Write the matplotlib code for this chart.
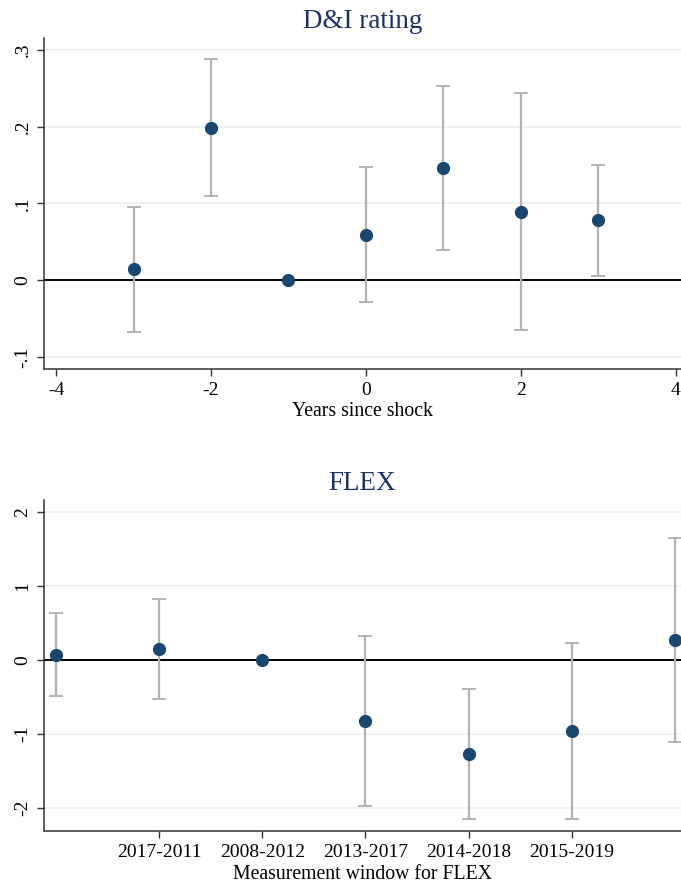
import matplotlib
matplotlib.use("Agg")
import matplotlib.pyplot as plt
import numpy as np

# --- Data: D&I rating ---
di_x = [-3, -2, -1, 0, 1, 2, 3]
di_est = [0.014, 0.199, 0.0, 0.059, 0.146, 0.089, 0.078]
di_lo = [-0.067, 0.110, 0.0, -0.029, 0.039, -0.065, 0.005]
di_hi = [0.095, 0.288, 0.0, 0.147, 0.253, 0.244, 0.150]
di_yticks = [-0.1, 0.0, 0.1, 0.2, 0.3]
di_yticklabels = ["-.1", "0", ".1", ".2", ".3"]
di_xticks = [-4, -2, 0, 2, 4]

# --- Data: FLEX ---
flex_x = [0, 1, 2, 3, 4, 5, 6]
flex_est = [0.072, 0.153, 0.0, -0.82, -1.266, -0.96, 0.279]
flex_lo = [-0.49, -0.523, 0.0, -1.978, -2.149, -2.145, -1.10]
flex_hi = [0.635, 0.828, 0.0, 0.333, -0.388, 0.234, 1.653]
flex_xticks = [1, 2, 3, 4, 5]
flex_xticklabels = ["2017-2011", "2008-2012", "2013-2017", "2014-2018", "2015-2019"]
flex_yticks = [-2, -1, 0, 1, 2]

plt.rcParams['font.family'] = ['Liberation Serif', 'DejaVu Serif']

NAVY = "#1a476f"
TITLE = "#1e3160"
GRAY = "#b3b3b3"
GRID = "#eaf0f3"
SPINE = "#333333"

fig = plt.figure(figsize=(6.81, 8.88), dpi=100)
ax1 = fig.add_axes([44/681, 1-369/888, (681-44)/681, (369-38)/888])
ax2 = fig.add_axes([44/681, 1-831/888, (681-44)/681, (831-500)/888])


def draw(ax, x, est, lo, hi):
    est = np.array(est); lo = np.array(lo); hi = np.array(hi)
    ax.axhline(0, color="black", lw=1.4, zorder=2)
    mask = hi != lo
    xa = np.array(x)
    ax.errorbar(xa[mask], est[mask], yerr=[est[mask]-lo[mask], hi[mask]-est[mask]],
                fmt="none", ecolor=GRAY, elinewidth=1.6, capsize=5, capthick=1.4, zorder=3)
    ax.plot(x, est, "o", color=NAVY, ms=8.5, zorder=4, clip_on=False)
    for s in ["top", "right"]:
        ax.spines[s].set_visible(False)
    for s in ["left", "bottom"]:
        ax.spines[s].set_color(SPINE)
        ax.spines[s].set_linewidth(1.1)
    ax.yaxis.grid(True, color=GRID, lw=1.3, zorder=0)
    ax.set_axisbelow(True)
    ax.tick_params(axis="both", direction="out", length=5, width=1.0, color=SPINE,
                   labelsize=14, pad=4)


draw(ax1, di_x, di_est, di_lo, di_hi)
ax1.set_xlim(-4.155, 4.065)
ax1.set_ylim(-0.1157, 0.3157)
ax1.set_xticks(di_xticks)
ax1.set_xticklabels([str(v) for v in di_xticks])
ax1.set_yticks(di_yticks)
ax1.set_yticklabels(di_yticklabels, rotation=90, va="center")
ax1.set_xlabel("Years since shock", fontsize=14.2, va="center")
ax1.xaxis.set_label_coords(0.5 - 0.0/637, (369-411)/331)
ax1.set_title("D&I rating", fontsize=19.5, color=TITLE, pad=7)

draw(ax2, flex_x, flex_est, flex_lo, flex_hi)
ax2.set_xlim(-0.116, 6.058)
ax2.set_ylim(-2.31, 2.166)
ax2.set_xticks(flex_xticks)
ax2.set_xticklabels(flex_xticklabels)
ax2.set_yticks(flex_yticks)
ax2.set_yticklabels([str(v) for v in flex_yticks], rotation=90, va="center")
ax2.set_xlabel("Measurement window for FLEX", fontsize=14.2, va="center")
ax2.xaxis.set_label_coords(0.5, (831-874)/331)
ax2.set_title("FLEX", fontsize=19.5, color=TITLE, pad=7)

fig.savefig("out.png", dpi=100)
